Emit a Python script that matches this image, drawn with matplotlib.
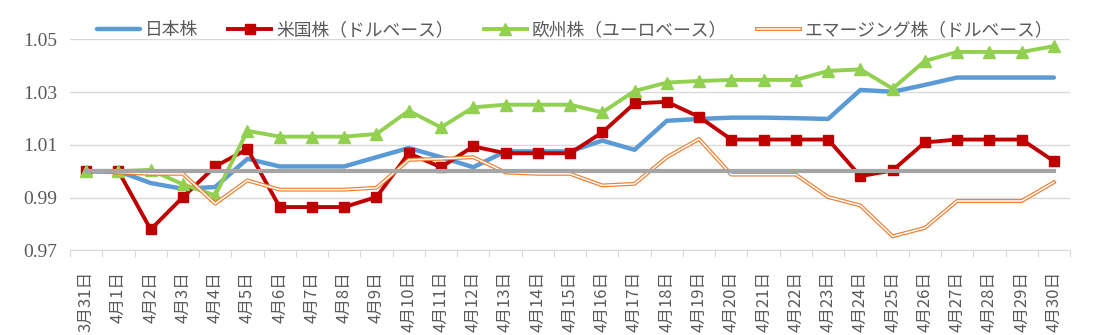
import matplotlib
matplotlib.use('Agg')
import matplotlib.pyplot as plt

dates = ['3月31日'] + ['4月%d日' % d for d in range(1, 31)]

japan = [1.000, 1.000, 0.9955, 0.9933, 0.9940, 1.0047, 1.0018, 1.0018, 1.0018, 1.0053,
         1.0088, 1.0053, 1.0015, 1.0075, 1.0075, 1.0075, 1.0116, 1.0081, 1.0191, 1.0198,
         1.0203, 1.0203, 1.0201, 1.0198, 1.0308, 1.0301, 1.0327, 1.0355, 1.0355, 1.0355,
         1.0355]
usa = [1.000, 1.000, 0.9779, 0.9902, 1.0018, 1.0084, 0.9864, 0.9864, 0.9864, 0.9902,
       1.0068, 1.0015, 1.0094, 1.0068, 1.0068, 1.0068, 1.0147, 1.0257, 1.0263, 1.0206,
       1.0120, 1.0120, 1.0120, 1.0120, 0.9981, 1.0003, 1.0109, 1.0120, 1.0120, 1.0120,
       1.0038]
europe = [1.000, 1.000, 1.0005, 0.9950, 0.9908, 1.0153, 1.0131, 1.0131, 1.0131, 1.0141,
          1.0229, 1.0166, 1.0242, 1.0252, 1.0252, 1.0252, 1.0223, 1.0304, 1.0336, 1.0342,
          1.0346, 1.0346, 1.0346, 1.0380, 1.0386, 1.0313, 1.0418, 1.0452, 1.0452, 1.0452,
          1.0474]
emerging = [1.000, 0.9995, 0.9990, 0.9990, 0.9877, 0.9965, 0.9930, 0.9930, 0.9930, 0.9937,
            1.0043, 1.0047, 1.0053, 0.9995, 0.9990, 0.9990, 0.9946, 0.9952, 1.0053, 1.0122,
            0.9987, 0.9987, 0.9987, 0.9902, 0.9870, 0.9753, 0.9785, 0.9887, 0.9887, 0.9887,
            0.9958]
base = [1.000] * len(dates)

names = ['日本株', '米国株（ドルベース）', '欧州株（ユーロベース）', 'エマージング株（ドルベース）']
yticks = [0.97, 0.99, 1.01, 1.03, 1.05]

BLUE = '#5B9BD5'
RED = '#C00000'
GREEN = '#92D050'
ORANGE = '#ED7D31'
GRAY = '#A5A5A5'
TXT = '#595959'
GRID = '#D9D9D9'
JP = ['Noto Sans CJK JP', 'DejaVu Sans']


def main():
    fig = plt.figure(figsize=(10.96, 3.35), dpi=100)
    ax = fig.add_axes([0.0639, 0.2528, 0.9124, 0.6299])
    x = list(range(len(dates)))

    l1, = ax.plot(x, japan, color=BLUE, lw=3.2, solid_capstyle='round', zorder=3)
    l2, = ax.plot(x, usa, color=RED, lw=2.8, marker='s', ms=7.5, zorder=4)
    l3, = ax.plot(x, europe, color=GREEN, lw=2.8, marker='^', ms=8.5, zorder=5)
    o1, = ax.plot(x, emerging, color=ORANGE, lw=2.8, zorder=6)
    o2, = ax.plot(x, emerging, color='white', lw=1.1, zorder=6.1)
    ax.plot(x, base, color=GRAY, lw=3.0, zorder=7)

    ax.set_xlim(-0.5, len(dates) - 0.5)
    ax.set_ylim(0.97, 1.05)
    ax.set_yticks(yticks)
    ax.set_yticklabels(['%.2f' % v for v in yticks], fontfamily='Liberation Serif',
                       fontsize=14, color=TXT)
    ax.tick_params(axis='y', length=0, pad=9)
    ax.grid(axis='y', color=GRID, lw=1.0)
    ax.set_axisbelow(True)

    ax.set_xticks([i - 0.5 for i in range(len(dates) + 1)])
    ax.set_xticklabels([])
    ax.tick_params(axis='x', which='major', length=5, color=GRID)
    ax.set_xticks(x, minor=True)
    ax.set_xticklabels(dates, minor=True, rotation=90, fontfamily=JP,
                       fontsize=12, color=TXT)
    ax.tick_params(axis='x', which='minor', length=0, pad=15)

    for s in ['left', 'right', 'top']:
        ax.spines[s].set_visible(False)
    ax.spines['bottom'].set_color(GRID)

    fig.legend([l1, l2, l3, (o1, o2)], names, loc='center', bbox_to_anchor=(0.5246, 0.91),
               ncol=4, frameon=False, prop={'family': JP, 'size': 12.8},
               labelcolor=TXT, handlelength=2.42, handletextpad=0.25, columnspacing=1.7)

    fig.savefig('out.png', dpi=100)
    plt.close(fig)


if __name__ == '__main__':
    main()
